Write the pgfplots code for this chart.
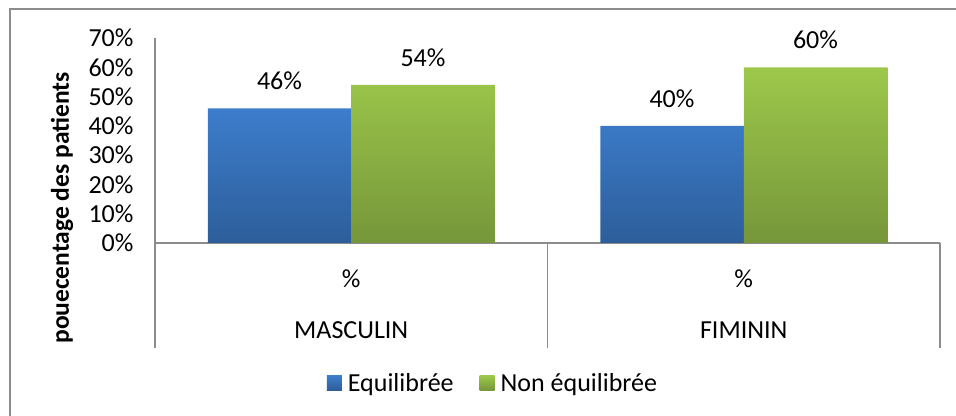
\documentclass[border=0pt]{standalone}
\usepackage{fontspec}
\setmainfont{Carlito}
\usepackage{pgfplots}
\pgfplotsset{compat=1.18}

\definecolor{blueTop}{HTML}{3D7DCC}
\definecolor{blueBot}{HTML}{2D5E9A}
\definecolor{greenTop}{HTML}{9DC84B}
\definecolor{greenBot}{HTML}{76963A}
\definecolor{axisgray}{HTML}{8C8C8C}

\newcommand\cfont{\fontsize{26bp}{31bp}\selectfont}

\begin{document}
\begin{tikzpicture}
\useasboundingbox (0bp,0bp) rectangle (956bp,416bp);
% chart frame (cut by the picture on right and bottom)
\draw[axisgray, line width=1.6bp] (10bp,0bp) -- (10bp,407bp) -- (956bp,407bp);
\node[rotate=90, font=\fontsize{25.5bp}{30bp}\selectfont\bfseries] at (62bp,208bp) {pouecentage des patients};

\begin{axis}[
  at={(155bp,173bp)}, anchor=south west,
  scale only axis,
  width=785bp, height=205bp,
  ybar,
  xmin=0, xmax=2,
  ymin=0, ymax=70,
  enlarge x limits=false,
  xtick={0.5,1.5},
  xticklabels={\%,\%},
  ytick={0,10,20,30,40,50,60,70},
  yticklabels={0\%,10\%,20\%,30\%,40\%,50\%,60\%,70\%},
  tick label style={font=\cfont},
  xticklabel style={anchor=base, yshift=-44bp},
  yticklabel style={anchor=east, xshift=-18bp},
  major tick length=0pt,
  axis x line*=bottom,
  axis y line*=left,
  axis line style={draw=axisgray, line width=1.2bp, -},
  /pgf/number format/assume math mode=true,
  clip=false,
  nodes near coords={\pgfmathprintnumber{\pgfplotspointmeta}\%},
  every node near coord/.append style={font=\cfont, anchor=base, yshift=18.5bp, text=black},
  legend columns=2,
  legend style={at={(0.4306,-0.683)}, anchor=center, draw=none, fill=none,
    font=\cfont,
    /tikz/every odd column/.append style={column sep=4bp},
    /tikz/every even column/.append style={column sep=24bp}},
]
\addplot[bar width=0.3656, bar shift=0pt, draw=none,
  top color=blueTop, bottom color=blueBot,
  legend image code/.code={\shade[top color=blueTop, bottom color=blueBot] (0bp,-7.5bp) rectangle (15bp,7.5bp);}]
  coordinates {(0.3172,46) (1.3172,40)};
\addlegendentry{Equilibrée}
\addplot[bar width=0.3656, bar shift=0pt, draw=none,
  top color=greenTop, bottom color=greenBot,
  legend image code/.code={\shade[top color=greenTop, bottom color=greenBot] (0bp,-7.5bp) rectangle (15bp,7.5bp);}]
  coordinates {(0.6828,54) (1.6828,60)};
\addlegendentry{Non équilibrée}

% multi-level category axis
\draw[axisgray, line width=1.2bp] (axis cs:0,0) -- (axis cs:0,-35.85);
\draw[axisgray, line width=1.2bp] (axis cs:1,0) -- (axis cs:1,-35.85);
\draw[axisgray, line width=1.2bp] (axis cs:2,0) -- (axis cs:2,-35.85);
\node[anchor=base, font=\cfont] at (axis cs:0.5,-32.44) {MASCULIN};
\node[anchor=base, font=\cfont] at (axis cs:1.5,-32.44) {FIMININ};
\end{axis}
\end{tikzpicture}
\end{document}
